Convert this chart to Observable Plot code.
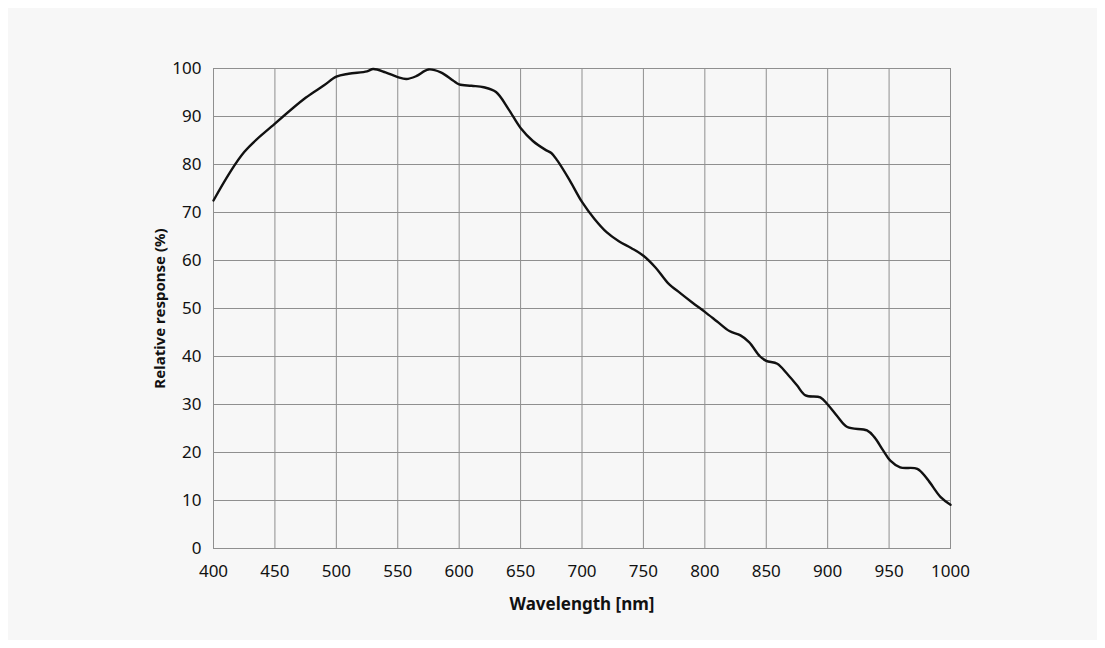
<!DOCTYPE html>
<html>
<head>
<meta charset="utf-8">
<script src="https://cdn.jsdelivr.net/npm/d3@7"></script>
<script src="https://cdn.jsdelivr.net/npm/@observablehq/plot@0.6"></script>
<style>
  html, body { margin: 0; padding: 0; background: #ffffff; }
  #card { position: absolute; left: 8px; top: 8px; width: 1089px; height: 632px; background: #f7f7f7; }
  #chart { position: absolute; left: 0; top: 0; }
  #chart svg { background: transparent; }
</style>
</head>
<body>
<div id="card"></div>
<div id="chart"></div>
<script>
const wavelengths = [400, 425, 450, 475, 490, 500, 510, 525, 530, 540, 550, 557, 565, 575, 585, 595, 600, 610, 620, 630, 640, 650, 660, 670, 675, 680, 690, 700, 710, 720, 730, 740, 750, 760, 770, 780, 790, 800, 810, 820, 829, 836, 845, 850, 859, 867, 875, 882, 894, 900, 908, 916, 932, 938, 945, 951, 959, 973, 981, 992, 1000];
const response = [72.5, 82.6, 88.5, 93.9, 96.5, 98.3, 98.9, 99.4, 99.9, 99.2, 98.2, 97.8, 98.4, 99.8, 99.2, 97.5, 96.7, 96.4, 96.1, 95.1, 91.6, 87.6, 84.9, 83.1, 82.4, 80.8, 76.7, 72.2, 68.7, 65.9, 64.0, 62.6, 61.0, 58.5, 55.3, 53.2, 51.2, 49.3, 47.3, 45.3, 44.4, 43.0, 40.0, 39.1, 38.5, 36.4, 34.0, 31.9, 31.5, 30.0, 27.5, 25.3, 24.6, 23.2, 20.5, 18.3, 16.9, 16.6, 14.5, 10.7, 9.1];
const xTicks = [400, 450, 500, 550, 600, 650, 700, 750, 800, 850, 900, 950, 1000];
const yTicks = [0, 10, 20, 30, 40, 50, 60, 70, 80, 90, 100];
const xLabel = "Wavelength [nm]";
const yLabel = "Relative response (%)";

const data = wavelengths.map((w, i) => ({w, r: response[i]}));

const chart = Plot.plot({
  width: 1105,
  height: 648,
  marginLeft: 213,
  marginRight: 155,
  marginTop: 68,
  marginBottom: 100,
  style: {fontFamily: "'Noto Sans', sans-serif", fontSize: "17px", color: "#111", background: "transparent"},
  x: {domain: [400, 1000]},
  y: {domain: [0, 100]},
  marks: [
    Plot.gridX(xTicks, {stroke: "#8f8f8f", strokeOpacity: 1, strokeWidth: 1}),
    Plot.gridY(yTicks, {stroke: "#8f8f8f", strokeOpacity: 1, strokeWidth: 1}),
    Plot.frame({stroke: "#8f8f8f", strokeWidth: 1}),
    Plot.axisX(xTicks, {tickSize: 0, tickPadding: 16, label: null, fontSize: 17, fill: "#111", tickFormat: d => String(d)}),
    Plot.axisY(yTicks, {tickSize: 0, tickPadding: 12, label: null, fontSize: 17, fill: "#111", tickFormat: d => String(d)}),
    Plot.line(data, {x: "w", y: "r", curve: "catmull-rom", stroke: "#111", strokeWidth: 2.4}),
    Plot.text([xLabel], {frameAnchor: "bottom", textAnchor: "middle", dy: 61, text: d => d, fontWeight: "bold", fontSize: 17, fill: "#111"}),
    Plot.text([yLabel], {frameAnchor: "left", textAnchor: "middle", dx: -53, rotate: -90, text: d => d, fontWeight: "bold", fontSize: 15, fill: "#111"})
  ]
});
document.getElementById("chart").appendChild(chart);
</script>
</body>
</html>
